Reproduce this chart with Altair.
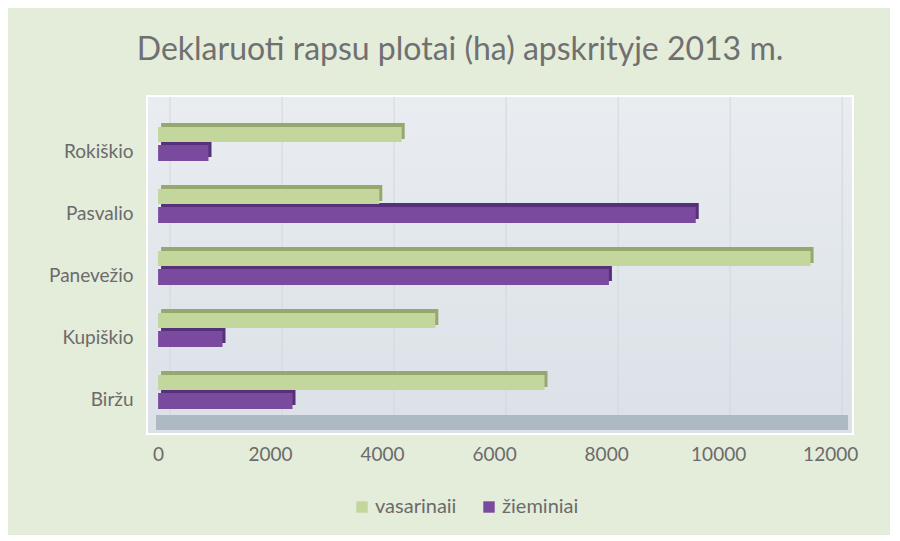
import altair as alt
import pandas as pd

# ---- data ----
categories = ["Rokiškio", "Pasvalio", "Panevežio", "Kupiškio", "Biržu"]
series = ["vasarinaii", "žieminiai"]
vasarinaii = [4350, 3950, 11650, 4950, 6900]
zieminiai = [900, 9600, 8050, 1150, 2400]
x_ticks = [0, 2000, 4000, 6000, 8000, 10000, 12000]
title_text = "Deklaruoti rapsu plotai (ha) apskrityje 2013 m."

rows = []
for c, v, z in zip(categories, vasarinaii, zieminiai):
    rows.append({"apskritis": c, "serija": series[0], "plotas": v})
    rows.append({"apskritis": c, "serija": series[1], "plotas": z})
df = pd.DataFrame(rows)
grid_df = pd.DataFrame({"plotas": x_ticks})

W, H = 704, 336
FONT = "Lato"
TXT = "#6b6b6b"
GREEN, GREEN_DARK = "#c3d69b", "#97a86f"
PURPLE, PURPLE_DARK = "#7a4a9f", "#56317a"

xscale = alt.Scale(domain=[-180, 12390], nice=False, zero=False)
yscale = alt.Scale(domain=categories, paddingInner=0, paddingOuter=0.21)
cscale = alt.Scale(domain=series, range=[GREEN, PURPLE])

xenc = alt.X(
    "plotas:Q", scale=xscale,
    axis=alt.Axis(values=x_ticks, format="d", grid=False, ticks=False, domain=False,
                  labelPadding=12, labelFontSize=19, labelColor=TXT,
                  labelFont=FONT, title=None, labelFlush=False),
)
yenc = alt.Y(
    "apskritis:N", scale=yscale, sort=categories,
    axis=alt.Axis(ticks=False, domain=False, labelPadding=15, labelOffset=11,
                  labelFontSize=19, labelColor=TXT, labelFont=FONT, title=None),
)
cenc = alt.Color(
    "serija:N", scale=cscale,
    legend=alt.Legend(orient="none", legendX=204, legendY=400, direction="horizontal",
                      title=None, symbolType="square", symbolSize=130,
                      symbolStrokeWidth=0, labelFontSize=20, labelColor=TXT,
                      labelFont=FONT, columnPadding=22, labelOffset=3),
)

bg = alt.Chart(pd.DataFrame({"a": [0]})).mark_rect(
    color=alt.LinearGradient(
        gradient="linear",
        stops=[alt.GradientStop(color="#e9edf1", offset=0),
               alt.GradientStop(color="#dbe1e7", offset=1)],
        x1=0, x2=0, y1=0, y2=1,
    )
).encode(x=alt.value(0), x2=alt.value(W), y=alt.value(0), y2=alt.value(H))

grid = alt.Chart(grid_df).mark_rule(color="#d0d7de", strokeWidth=1, xOffset=12).encode(
    x=xenc, y=alt.value(0), y2=alt.value(318),
)

floor = alt.Chart(pd.DataFrame({"a": [0]})).mark_rect(color="#adb9c3").encode(
    x=alt.value(8), x2=alt.value(700), y=alt.value(318), y2=alt.value(333)
)

base = alt.Chart(df)
p_back = base.transform_filter(alt.datum.serija == series[1]).mark_bar(
    size=16, yOffset=8, xOffset=3, x2Offset=3, color=PURPLE_DARK
).encode(x=xenc, y=yenc)
p_front = base.transform_filter(alt.datum.serija == series[1]).mark_bar(
    size=16, yOffset=12
).encode(x=xenc, y=yenc, color=cenc)
g_back = base.transform_filter(alt.datum.serija == series[0]).mark_bar(
    size=16, yOffset=-10, xOffset=3, x2Offset=3, color=GREEN_DARK
).encode(x=xenc, y=yenc)
g_front = base.transform_filter(alt.datum.serija == series[0]).mark_bar(
    size=15, yOffset=-6.5
).encode(x=xenc, y=yenc, color=cenc)

chart = alt.layer(bg, grid, floor, p_back, p_front, g_back, g_front).properties(
    width=W, height=H,
    title=alt.TitleParams(title_text, fontSize=32, font=FONT, color="#707070",
                          fontWeight="normal", anchor="middle", dx=-40, offset=30),
    autosize=alt.AutoSizeParams(type="none"),
    padding={"left": 140, "top": 89, "right": 38, "bottom": 102},
    background="#e4ecda",
).configure_view(stroke="white", strokeWidth=4, fill="#e1e6eb")

chart.save("out.html", embed_options={"renderer": "svg", "actions": False})
